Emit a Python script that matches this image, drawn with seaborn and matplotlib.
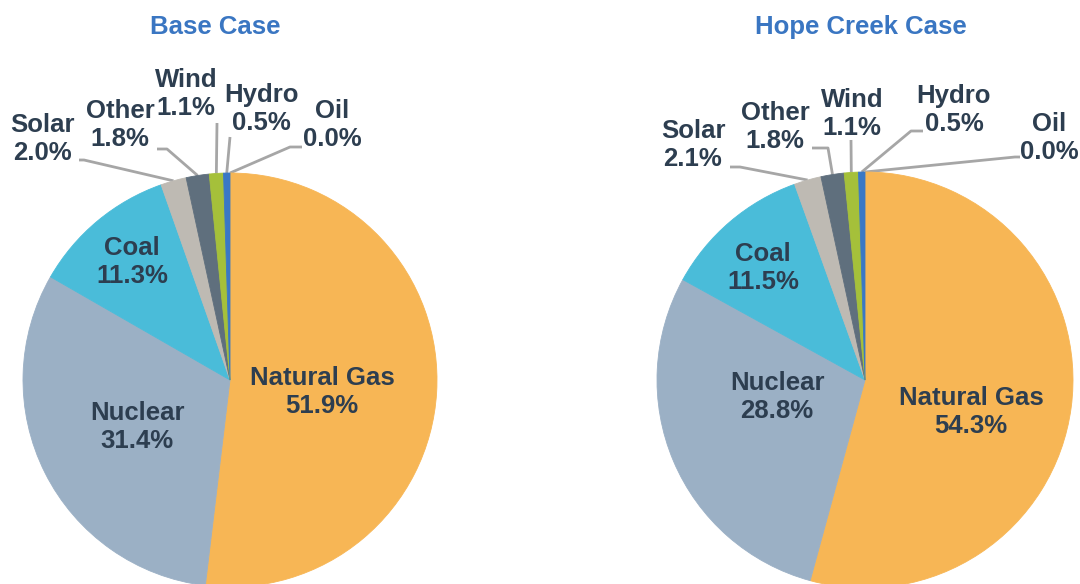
import matplotlib
matplotlib.use("Agg")
import matplotlib.pyplot as plt
import seaborn as sns
import numpy as np

sources = ["Natural Gas", "Nuclear", "Coal", "Solar", "Other", "Wind", "Hydro", "Oil"]
base_share = [51.9, 31.4, 11.3, 2.0, 1.8, 1.1, 0.5, 0.0]
hope_share = [54.3, 28.8, 11.5, 2.1, 1.8, 1.1, 0.5, 0.0]
titles = ["Base Case", "Hope Creek Case"]
source_colors = ["#F7B655", "#9BB0C5", "#4ABCD9", "#BEBAB3",
                 "#5F6F7D", "#A5C03A", "#3A78C5", "#808080"]

sns.set_theme(style="white")
plt.rcParams['font.family'] = ['Liberation Sans', 'DejaVu Sans']

W, H = 1080, 584
TXT = '#2D3E50'
TITLE_C = '#3A76C2'
LINE_C = '#A6A6A6'
FS = 18.5
LS = 1.25

palette = sns.color_palette(source_colors)

# layout in pixel space (y from top of image)
# outside labels: name -> (text centre, leader start, elbow dx)
layouts = [
    dict(center=(230, 380), r=207, title_xy=(215, 27),
         inside={'Natural Gas': (322, 392), 'Nuclear': (137, 427), 'Coal': (132, 262)},
         outside={'Solar': ((42, 139), (79, 160), 5),
                  'Other': ((120, 125), (157, 149), 10),
                  'Wind': ((186, 94), (217, 123), 0),
                  'Hydro': ((261, 109), (230, 137), 0),
                  'Oil': ((332, 125), (302, 147), -12)}),
    dict(center=(865, 380), r=208, title_xy=(861, 27),
         inside={'Natural Gas': (971, 412), 'Nuclear': (777, 397), 'Coal': (763, 268)},
         outside={'Solar': ((693, 145), (730, 167), 10),
                  'Other': ((775, 127), (812, 148), 16),
                  'Wind': ((852, 114), (851, 140), 0),
                  'Hydro': ((954, 110), (923, 131), -12),
                  'Oil': ((1049, 138), (1020, 157), -5)}),
]


def fy(y):
    return H - y


fig = plt.figure(figsize=(W / 100, H / 100), dpi=100)
ax = fig.add_axes([0, 0, 1, 1])

for values, title, lay in zip([base_share, hope_share], titles, layouts):
    cx, cy = lay['center']
    r = lay['r']
    wedges, _ = ax.pie(values, colors=palette, startangle=90, counterclock=False,
                       center=(cx, fy(cy)), radius=r, wedgeprops=dict(linewidth=0))
    for w, v in zip(wedges, values):
        if v > 0:
            w.set_edgecolor(w.get_facecolor())
            w.set_linewidth(0.6)

    tx, ty = lay['title_xy']
    ax.text(tx, fy(ty), title, ha='center', va='center', fontsize=18.5,
            fontweight='bold', color=TITLE_C)

    for name, (x, y) in lay['inside'].items():
        v = values[sources.index(name)]
        ax.text(x, fy(y), f"{name}\n{v:.1f}%", ha='center', va='center',
                fontsize=FS, fontweight='bold', color=TXT, linespacing=LS)

    for name, ((x, y), (sx, sy), dx) in lay['outside'].items():
        i = sources.index(name)
        v = values[i]
        ax.text(x, fy(y), f"{name}\n{v:.1f}%", ha='center', va='center',
                fontsize=FS, fontweight='bold', color=TXT, linespacing=LS)
        w = wedges[i]
        th = np.deg2rad((w.theta1 + w.theta2) / 2)
        px_, py_ = cx + r * np.cos(th), fy(cy) + r * np.sin(th)
        ax.plot([sx, sx + dx, px_], [fy(sy), fy(sy), py_], color=LINE_C,
                lw=2, solid_capstyle='butt', zorder=0.5)

ax.set_xlim(0, W)
ax.set_ylim(0, H)
ax.set_aspect('equal')
ax.axis('off')

fig.savefig('out.png', dpi=100)
